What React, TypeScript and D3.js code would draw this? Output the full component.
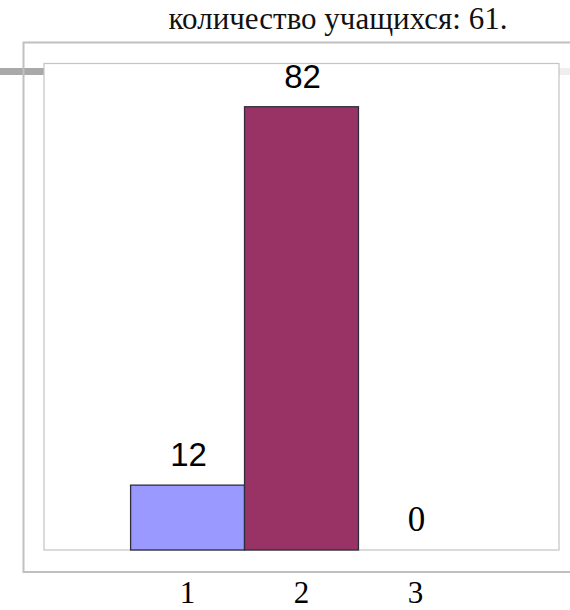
import React from "react";
import * as d3 from "d3";

const categories = ["1", "2", "3"];
const values = [12, 82, 0];
const barColors = ["#9999ff", "#993366", "#ffffcc"];
const titleText = "количество учащихся: 61.";

const W = 570;
const H = 610;
const plot = { left: 44, top: 63.5, right: 559, bottom: 550 };
const frame = { left: 23.5, top: 42.5, bottom: 572 };

export default function App() {
  const x = d3
    .scaleBand<string>()
    .domain(categories)
    .range([plot.left, plot.right])
    .paddingInner(0)
    .paddingOuter(0.76);
  const y = d3.scaleLinear().domain([0, 90]).range([plot.bottom, plot.top]);

  return (
    <svg
      width={W}
      height={H}
      style={{ position: "absolute", left: 0, top: 0, background: "#fff" }}
    >
      <rect x={0} y={0} width={W} height={H} fill="#fff" />
      <text
        x={338}
        y={29}
        textAnchor="middle"
        fontFamily="'Liberation Serif', serif"
        fontSize={31}
        fill="#111"
      >
        {titleText}
      </text>
      {/* decorative slide bands */}
      <rect x={0} y={68} width={plot.left} height={7} fill="#a9a9a9" />
      <rect x={plot.right} y={68} width={W - plot.right} height={7} fill="#eeeeee" />
      {/* outer frame */}
      <path
        d={`M${W + 2},${frame.top} H${frame.left} V${frame.bottom} H${W + 2}`}
        fill="none"
        stroke="#c0c0c0"
        strokeWidth={2}
      />
      {/* plot area */}
      <rect
        x={plot.left}
        y={plot.top}
        width={plot.right - plot.left}
        height={plot.bottom - plot.top}
        fill="#fff"
        stroke="#c4c4c4"
        strokeWidth={1.2}
      />
      {values.map((v, i) => {
        const c = categories[i];
        const bx = x(c)!;
        const by = y(v);
        return (
          <g key={c}>
            {v > 0 && (
              <rect
                x={bx}
                y={by}
                width={x.bandwidth()}
                height={y(0) - by}
                fill={barColors[i]}
                stroke="#2e2e3a"
                strokeWidth={1.3}
              />
            )}
            <text
              x={bx + x.bandwidth() / 2 + 1}
              y={by - 19}
              textAnchor="middle"
              fontFamily={v === 0 ? "'Liberation Serif', serif" : "'Liberation Sans', Arial, sans-serif"}
              fontSize={v === 0 ? 35 : 33}
              fill="#000"
            >
              {v}
            </text>
            <text
              x={bx + x.bandwidth() / 2}
              y={603}
              textAnchor="middle"
              fontFamily="'Liberation Serif', serif"
              fontSize={31}
              fill="#000"
            >
              {c}
            </text>
          </g>
        );
      })}
    </svg>
  );
}
